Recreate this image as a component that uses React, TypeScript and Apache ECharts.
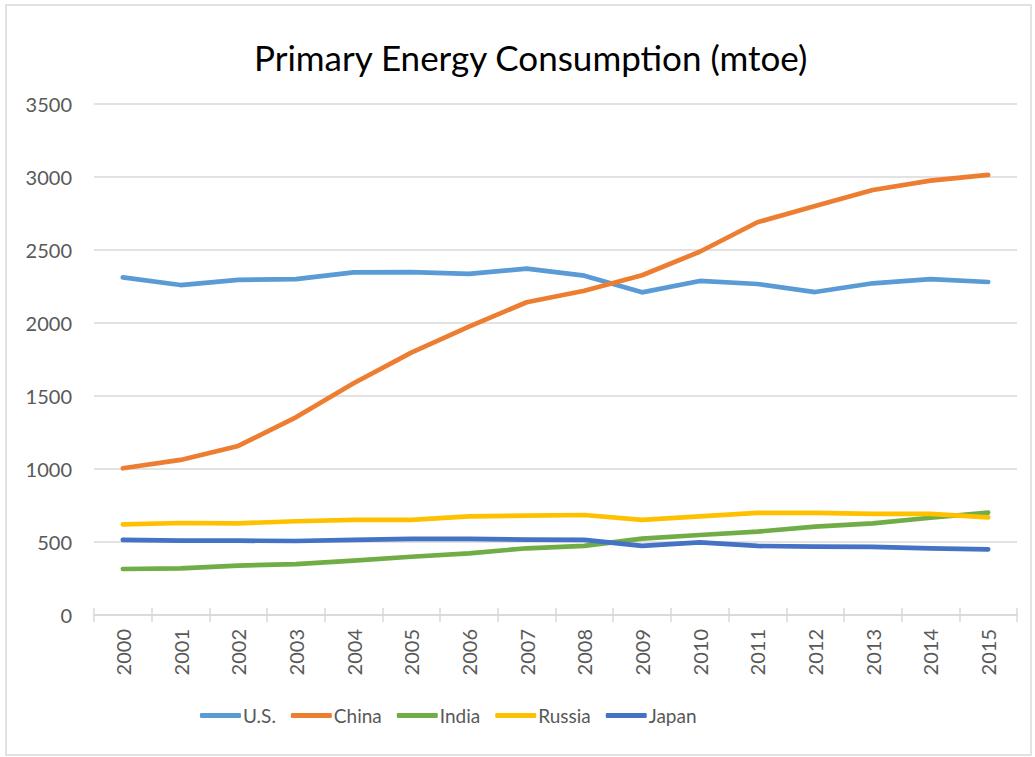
import React, { useEffect, useRef } from "react";
import * as echarts from "echarts";

const years = ["2000","2001","2002","2003","2004","2005","2006","2007","2008","2009","2010","2011","2012","2013","2014","2015"];
const usValues = [2313, 2260, 2295, 2301, 2347, 2349, 2336, 2372, 2324, 2210, 2288, 2267, 2212, 2272, 2301, 2281];
const chinaValues = [1005, 1062, 1158, 1354, 1587, 1797, 1975, 2142, 2221, 2327, 2488, 2690, 2801, 2911, 2975, 3014];
const indiaValues = [315, 320, 338, 349, 372, 399, 422, 457, 473, 523, 548, 571, 605, 628, 666, 701];
const russiaValues = [621, 630, 628, 642, 651, 651, 676, 680, 685, 651, 676, 699, 699, 692, 692, 669];
const japanValues = [514, 509, 509, 507, 514, 521, 521, 516, 514, 473, 498, 473, 468, 466, 457, 450];

const seriesDefs = [
  { name: "U.S.", data: usValues, color: "#5B9BD5" },
  { name: "China", data: chinaValues, color: "#ED7D31" },
  { name: "India", data: indiaValues, color: "#70AD47" },
  { name: "Russia", data: russiaValues, color: "#FFC000" },
  { name: "Japan", data: japanValues, color: "#4472C4" },
];

const FONT = "Lato, 'Open Sans', sans-serif";

export default function App() {
  const ref = useRef<HTMLDivElement>(null);
  useEffect(() => {
    if (!ref.current) return;
    const chart = echarts.init(ref.current, null, { renderer: "svg" });
    chart.setOption({
      animation: false,
      backgroundColor: "#ffffff",
      title: {
        text: "Primary Energy Consumption (mtoe)",
        left: 249,
        top: 34,
        textStyle: { fontFamily: FONT, fontSize: 35, fontWeight: "normal", color: "#000000" },
      },
      graphic: [
        {
          type: "rect",
          shape: { x: 6, y: 5, width: 1025, height: 750 },
          style: { fill: "none", stroke: "#D9D9D9", lineWidth: 1.5 },
          silent: true,
        },
      ],
      legend: {
        bottom: 27,
        left: 195,
        itemWidth: 41,
        itemHeight: 5,
        itemGap: 15,
        icon: "roundRect",
        textStyle: { fontFamily: FONT, fontSize: 19, color: "#595959", padding: [0, 0, 0, -3] },
        data: seriesDefs.map((s) => s.name),
      },
      grid: { left: 94, right: 18, top: 104, bottom: 142, containLabel: false },
      xAxis: [
        {
          type: "category",
          data: years,
          boundaryGap: true,
          axisLine: { lineStyle: { color: "#D9D9D9", width: 1.5 } },
          axisTick: { show: true, length: 7, inside: false, lineStyle: { color: "#D9D9D9", width: 1.5 } },
          axisLabel: { rotate: 90, margin: 14, fontFamily: FONT, fontSize: 20, color: "#595959" },
          splitLine: { show: false },
        },
        {
          type: "category",
          data: years,
          position: "bottom",
          boundaryGap: true,
          axisLine: { show: false },
          axisTick: { show: true, length: 7, inside: true, lineStyle: { color: "#D9D9D9", width: 1.5 } },
          axisLabel: { show: false },
          splitLine: { show: false },
        },
      ],
      yAxis: {
        type: "value",
        min: 0,
        max: 3500,
        interval: 500,
        axisLine: { show: false },
        axisTick: { show: false },
        axisLabel: {
          margin: 22,
          fontFamily: FONT,
          fontSize: 20,
          color: "#595959",
          formatter: (v: number) => String(v),
        },
        splitLine: { lineStyle: { color: "#D9D9D9", width: 1.5 } },
      },
      series: seriesDefs.map((s) => ({
        name: s.name,
        type: "line",
        data: s.data,
        xAxisIndex: 0,
        symbol: "none",
        showSymbol: false,
        itemStyle: { color: s.color },
        lineStyle: { color: s.color, width: 4.7, cap: "round", join: "round" },
      })),
    });
    return () => chart.dispose();
  }, []);
  return (
    <div
      ref={ref}
      style={{ position: "fixed", left: 0, top: 0, width: 1035, height: 757, background: "#fff" }}
    />
  );
}
